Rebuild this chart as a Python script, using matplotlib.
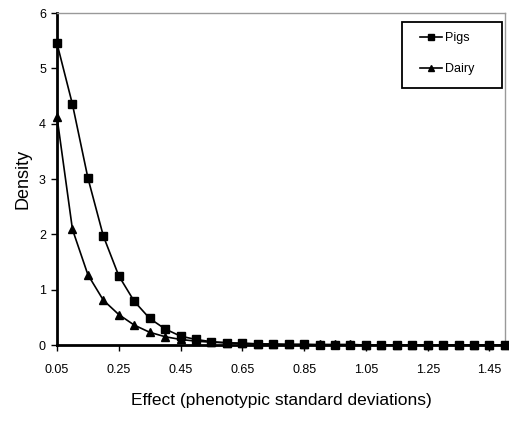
import matplotlib
matplotlib.use("Agg")
import matplotlib.pyplot as plt
from matplotlib.patches import Rectangle

plt.rcParams['font.family'] = ['Liberation Sans', 'DejaVu Sans']

# effect sizes (phenotypic SD), one category every 0.05
effect = [0.05, 0.10, 0.15, 0.20, 0.25, 0.30, 0.35, 0.40, 0.45, 0.50,
          0.55, 0.60, 0.65, 0.70, 0.75, 0.80, 0.85, 0.90, 0.95, 1.00,
          1.05, 1.10, 1.15, 1.20, 1.25, 1.30, 1.35, 1.40, 1.45, 1.50]

pigs = [5.45, 4.35, 3.02, 1.97, 1.25, 0.79, 0.48, 0.29, 0.16, 0.10,
        0.06, 0.04, 0.03, 0.02, 0.01, 0.01, 0.01, 0.0, 0.0, 0.0,
        0.0, 0.0, 0.0, 0.0, 0.0, 0.0, 0.0, 0.0, 0.0, 0.0]

dairy = [4.12, 2.09, 1.27, 0.81, 0.55, 0.36, 0.23, 0.15, 0.10, 0.07,
         0.05, 0.04, 0.03, 0.02, 0.02, 0.01, 0.01, 0.01, 0.01, 0.01,
         0.0, 0.0, 0.0, 0.0, 0.0, 0.0, 0.0, 0.0, 0.0, 0.0]

xticks = [0.05, 0.25, 0.45, 0.65, 0.85, 1.05, 1.25, 1.45]
yticks = [0, 1, 2, 3, 4, 5, 6]

fig = plt.figure(figsize=(5.09, 4.21), dpi=100)
ax = fig.add_axes([0.112, 0.1805, 0.88, 0.7885])

ax.plot(effect, pigs, color="black", linewidth=1.2, marker="s",
        markersize=5.8, label="Pigs", clip_on=False, zorder=3)
ax.plot(effect, dairy, color="black", linewidth=1.2, marker="^",
        markersize=5.5, label="Dairy", clip_on=False, zorder=3)

ax.set_xlim(0.05, 1.50)
ax.set_ylim(0, 6)
ax.set_xticks(xticks)
ax.set_xticklabels(["%.2f" % v for v in xticks])
ax.set_yticks(yticks)

ax.tick_params(axis="both", direction="out", length=4, width=1,
               labelsize=9, colors="black")
ax.tick_params(axis="x", pad=10)
ax.tick_params(axis="y", pad=4)

ax.spines["left"].set_linewidth(2)
ax.spines["bottom"].set_linewidth(2)
ax.spines["top"].set_color("#999999")
ax.spines["right"].set_color("#999999")
ax.spines["top"].set_linewidth(1)
ax.spines["right"].set_linewidth(1)

ax.set_xlabel("Effect (phenotypic standard deviations)", fontsize=12.5, labelpad=12)
ax.set_ylabel("Density", fontsize=13, labelpad=5)

# legend entries without frame, box drawn separately
leg = ax.legend(loc="upper left", bbox_to_anchor=(0.825, 0.924),
                bbox_transform=fig.transFigure, fontsize=9, frameon=False,
                handlelength=1.76, handletextpad=0.25, borderpad=0,
                borderaxespad=0, labelspacing=1.55, markerscale=0.8)
fig.add_artist(Rectangle((0.790, 0.791), 0.196, 0.157, transform=fig.transFigure,
                         fill=False, edgecolor="black", linewidth=1.3))

fig.savefig("out.png", dpi=100)
